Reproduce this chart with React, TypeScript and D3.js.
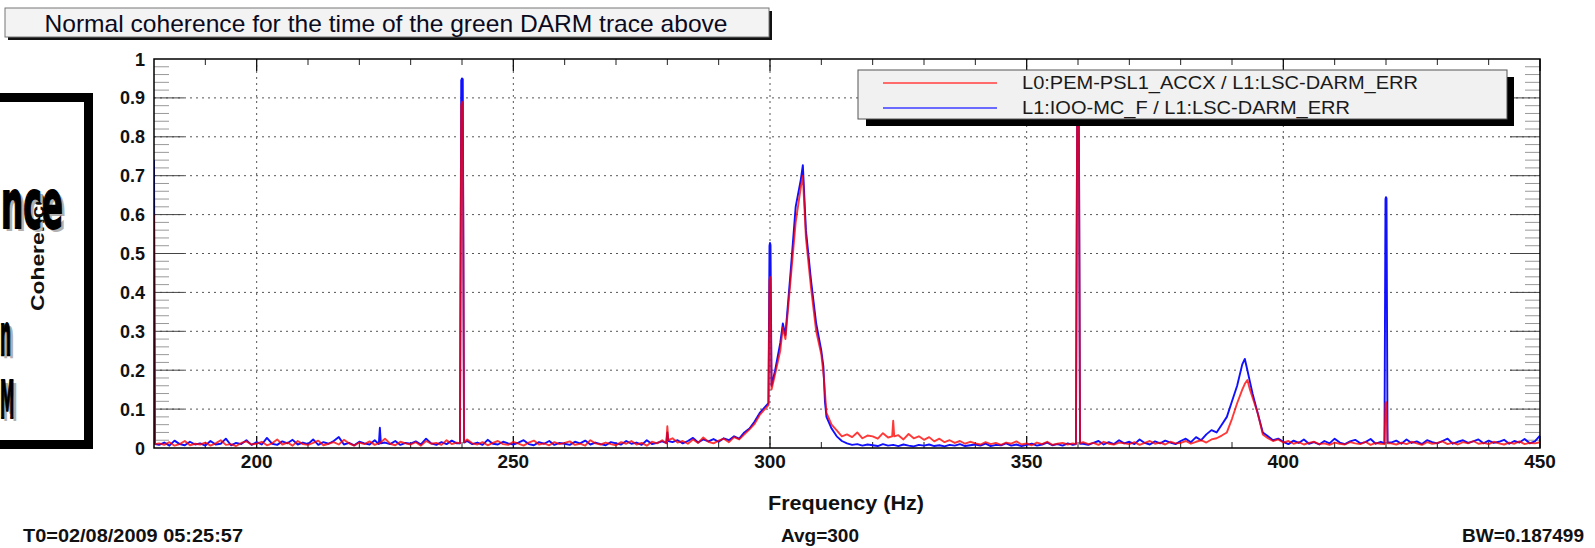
import React from "react";
import * as d3 from "d3";

// ---------- data ----------
const F0 = 180; // frequency of first baseline sample (Hz)
const DF = 1; // spacing of baseline samples (Hz)

const xMajorTicks = [200, 250, 300, 350, 400, 450];
const xGridTicks = [200, 250, 300, 350, 400];
const yTickValues = [0, 0.1, 0.2, 0.3, 0.4, 0.5, 0.6, 0.7, 0.8, 0.9, 1];
const yTickLabels = ["0", "0.1", "0.2", "0.3", "0.4", "0.5", "0.6", "0.7", "0.8", "0.9", "1"];

const seriesNames = ["L0:PEM-PSL1_ACCX / L1:LSC-DARM_ERR", "L1:IOO-MC_F / L1:LSC-DARM_ERR"];

// red: L0:PEM-PSL1_ACCX / L1:LSC-DARM_ERR, one value per Hz from 180 Hz
const redBase = [
  0.60, 0.012, 0.008, 0.015, 0.006, 0.010, 0.018, 0.007, 0.011, 0.009, // 180
  0.014, 0.006, 0.012, 0.020, 0.008, 0.010, 0.005, 0.013, 0.017, 0.009, // 190
  0.011, 0.016, 0.007, 0.012, 0.022, 0.009, 0.014, 0.006, 0.018, 0.010, // 200
  0.008, 0.013, 0.019, 0.007, 0.011, 0.015, 0.009, 0.021, 0.012, 0.006, // 210
  0.014, 0.010, 0.017, 0.008, 0.013, 0.024, 0.011, 0.007, 0.016, 0.012, // 220
  0.009, 0.015, 0.006, 0.018, 0.011, 0.013, 0.008, 0.020, 0.010, 0.014, // 230
  0.89, 0.022, 0.012, 0.009, 0.015, 0.007, 0.013, 0.018, 0.010, 0.008, // 240
  0.016, 0.011, 0.006, 0.014, 0.019, 0.009, 0.012, 0.007, 0.015, 0.010, // 250
  0.013, 0.017, 0.008, 0.011, 0.006, 0.020, 0.012, 0.009, 0.014, 0.010, // 260
  0.007, 0.015, 0.011, 0.018, 0.009, 0.013, 0.006, 0.016, 0.012, 0.020, // 270
  0.056, 0.025, 0.014, 0.018, 0.011, 0.022, 0.013, 0.027, 0.016, 0.012, // 280
  0.019, 0.024, 0.015, 0.028, 0.022, 0.035, 0.048, 0.062, 0.085, 0.100, // 290
  0.44, 0.19, 0.25, 0.28, 0.43, 0.58, 0.67, 0.54, 0.41, 0.30, // 300
  0.24, 0.09, 0.06, 0.045, 0.030, 0.035, 0.028, 0.040, 0.025, 0.032, // 310
  0.030, 0.024, 0.038, 0.027, 0.070, 0.033, 0.022, 0.036, 0.025, 0.030, // 320
  0.021, 0.028, 0.017, 0.024, 0.015, 0.020, 0.013, 0.018, 0.011, 0.016, // 330
  0.012, 0.009, 0.015, 0.010, 0.013, 0.008, 0.014, 0.011, 0.017, 0.009, // 340
  0.012, 0.007, 0.014, 0.010, 0.016, 0.008, 0.011, 0.013, 0.009, 0.012, // 350
  0.92, 0.015, 0.010, 0.013, 0.008, 0.016, 0.011, 0.009, 0.014, 0.012, // 360
  0.010, 0.015, 0.008, 0.013, 0.018, 0.011, 0.014, 0.009, 0.016, 0.012, // 370
  0.013, 0.018, 0.011, 0.016, 0.020, 0.014, 0.022, 0.025, 0.032, 0.040, // 380
  0.075, 0.115, 0.150, 0.175, 0.130, 0.090, 0.035, 0.025, 0.018, 0.022, // 390
  0.014, 0.018, 0.011, 0.015, 0.009, 0.013, 0.016, 0.010, 0.012, 0.008, // 400
  0.014, 0.011, 0.009, 0.015, 0.012, 0.010, 0.016, 0.008, 0.013, 0.011, // 410
  0.118, 0.012, 0.009, 0.014, 0.010, 0.016, 0.012, 0.008, 0.015, 0.011, // 420
  0.013, 0.017, 0.010, 0.014, 0.009, 0.015, 0.012, 0.018, 0.011, 0.013, // 430
  0.010, 0.016, 0.012, 0.009, 0.014, 0.011, 0.017, 0.010, 0.013, 0.012, // 440
  0.015, // 450
];

// extra red samples between whole Hz (line edges, peak tops)
const redExtra: [number, number][] = [
  [180.2, 0.01],
  [239.6, 0.012], [239.85, 0.88], [240.15, 0.885], [240.4, 0.015],
  [279.8, 0.012], [280.2, 0.02],
  [299.7, 0.11], [299.9, 0.43], [300.1, 0.435], [300.3, 0.15],
  [302.5, 0.31], [306.4, 0.70], [310.5, 0.18],
  [323.8, 0.03], [324.2, 0.03],
  [359.6, 0.01], [359.85, 0.91], [360.15, 0.915], [360.4, 0.012],
  [392.5, 0.165], [393.5, 0.15],
  [419.7, 0.01], [419.9, 0.115], [420.1, 0.112], [420.3, 0.012],
];

// blue: L1:IOO-MC_F / L1:LSC-DARM_ERR, one value per Hz from 180 Hz
const blueBase = [
  0.74, 0.008, 0.014, 0.006, 0.019, 0.010, 0.007, 0.016, 0.009, 0.012, // 180
  0.006, 0.018, 0.009, 0.011, 0.024, 0.007, 0.013, 0.010, 0.020, 0.008, // 190
  0.015, 0.009, 0.026, 0.011, 0.008, 0.017, 0.012, 0.021, 0.009, 0.014, // 200
  0.010, 0.022, 0.008, 0.015, 0.011, 0.018, 0.028, 0.009, 0.013, 0.007, // 210
  0.016, 0.012, 0.009, 0.020, 0.052, 0.014, 0.010, 0.018, 0.008, 0.013, // 220
  0.011, 0.017, 0.009, 0.024, 0.012, 0.008, 0.015, 0.010, 0.019, 0.012, // 230
  0.95, 0.018, 0.010, 0.014, 0.008, 0.021, 0.011, 0.009, 0.016, 0.012, // 240
  0.009, 0.014, 0.020, 0.010, 0.007, 0.015, 0.011, 0.018, 0.008, 0.013, // 250
  0.011, 0.008, 0.016, 0.012, 0.019, 0.009, 0.014, 0.010, 0.007, 0.015, // 260
  0.012, 0.009, 0.018, 0.011, 0.014, 0.008, 0.020, 0.010, 0.013, 0.017, // 270
  0.040, 0.015, 0.020, 0.012, 0.018, 0.026, 0.014, 0.022, 0.017, 0.023, // 280
  0.016, 0.025, 0.020, 0.030, 0.024, 0.040, 0.050, 0.068, 0.090, 0.105, // 290
  0.527, 0.20, 0.27, 0.29, 0.45, 0.62, 0.69, 0.56, 0.43, 0.32, // 300
  0.25, 0.08, 0.05, 0.030, 0.018, 0.012, 0.008, 0.010, 0.006, 0.009, // 310
  0.007, 0.005, 0.010, 0.006, 0.008, 0.005, 0.009, 0.006, 0.004, 0.008, // 320
  0.006, 0.009, 0.005, 0.007, 0.004, 0.008, 0.006, 0.010, 0.005, 0.007, // 330
  0.009, 0.006, 0.011, 0.005, 0.008, 0.007, 0.012, 0.006, 0.009, 0.005, // 340
  0.008, 0.011, 0.006, 0.009, 0.014, 0.007, 0.010, 0.006, 0.012, 0.008, // 350
  0.93, 0.011, 0.008, 0.013, 0.018, 0.009, 0.015, 0.010, 0.020, 0.012, // 360
  0.016, 0.010, 0.022, 0.013, 0.009, 0.017, 0.012, 0.019, 0.014, 0.010, // 370
  0.018, 0.024, 0.015, 0.028, 0.020, 0.035, 0.046, 0.040, 0.060, 0.080, // 380
  0.120, 0.160, 0.215, 0.200, 0.140, 0.090, 0.040, 0.030, 0.020, 0.024, // 390
  0.016, 0.010, 0.019, 0.013, 0.022, 0.011, 0.015, 0.009, 0.018, 0.012, // 400
  0.024, 0.014, 0.010, 0.017, 0.021, 0.012, 0.015, 0.023, 0.011, 0.016, // 410
  0.645, 0.014, 0.019, 0.011, 0.022, 0.013, 0.017, 0.010, 0.020, 0.015, // 420
  0.012, 0.018, 0.024, 0.011, 0.016, 0.020, 0.013, 0.017, 0.022, 0.012, // 430
  0.019, 0.013, 0.016, 0.021, 0.011, 0.018, 0.014, 0.023, 0.012, 0.017, // 440
  0.032, // 450
];

const blueExtra: [number, number][] = [
  [180.2, 0.01], [223.8, 0.01], [224.2, 0.012],
  [239.6, 0.012], [239.85, 0.945], [240.15, 0.948], [240.4, 0.014],
  [279.8, 0.013], [280.2, 0.018],
  [299.7, 0.115], [299.9, 0.52], [300.1, 0.522], [300.3, 0.16],
  [302.5, 0.32], [306.4, 0.727], [310.4, 0.21], [310.7, 0.12],
  [359.6, 0.01], [359.85, 0.92], [360.15, 0.925], [360.4, 0.011],
  [392.5, 0.229], [393.5, 0.17],
  [419.7, 0.012], [419.9, 0.64], [420.1, 0.642], [420.3, 0.014],
];

const titleText = "Normal coherence for the time of the green DARM trace above";
const xAxisTitle = "Frequency (Hz)";
const yAxisTitle = "Coherence";
const footerLeft = "T0=02/08/2009 05:25:57";
const footerMid = "Avg=300";
const footerRight = "BW=0.187499";
// visible (cut-off) fragments of the overlaid callout words
const overlayWords = ["nce", "n", "M"];

// ---------- layout ----------
const W = 1595;
const H = 548;
const PL = 154, PR = 1540, PT = 59, PB = 448;
const FONT = "'Liberation Sans', Arial, Helvetica, sans-serif";

function buildSeries(base: number[], extra: [number, number][]): [number, number][] {
  const pts: [number, number][] = base.map((v, i) => [F0 + i * DF, v] as [number, number]);
  return pts.concat(extra).sort((a, b) => a[0] - b[0]);
}

export default function App() {
  const x = d3.scaleLinear().domain([180, 450]).range([PL, PR]);
  const y = d3.scaleLinear().domain([0, 1]).range([PB, PT]);
  const line = d3
    .line<[number, number]>()
    .x((d) => x(d[0]))
    .y((d) => y(d[1]));

  const red = buildSeries(redBase, redExtra);
  const blue = buildSeries(blueBase, blueExtra);

  const xMinor = d3.range(190, 450, 10).filter((f) => f % 50 !== 0);
  const yMinor = d3.range(1, 50).map((i) => i * 0.02).filter((_, i) => (i + 1) % 5 !== 0);

  // big condensed callout text: drawn at natural size then squeezed horizontally
  const bigText = (word: string, lx: number, by: number, size: number, sx: number) => (
    <g key={word}>
      <text
        transform={`translate(${lx + 3},${by + 3}) scale(${sx},1)`}
        fontFamily="'DejaVu Sans', sans-serif"
        fontWeight="bold"
        fontSize={size}
        fill="#b0b0b0"
      >
        {word}
      </text>
      <text
        transform={`translate(${lx},${by}) scale(${sx},1)`}
        fontFamily="'DejaVu Sans', sans-serif"
        fontWeight="bold"
        fontSize={size}
        fill="#000"
        stroke="#000"
        strokeWidth={2}
      >
        {word}
      </text>
    </g>
  );

  return (
    <svg
      width={W}
      height={H}
      style={{ position: "absolute", left: 0, top: 0, background: "#fff" }}
      fontFamily={FONT}
    >
      <defs>
        <clipPath id="plotclip">
          <rect x={PL} y={PT} width={PR - PL} height={PB - PT} />
        </clipPath>
      </defs>
      <rect x={0} y={0} width={W} height={H} fill="#fff" />

      {/* title box */}
      <rect x={8} y={11} width={764} height={29} fill="#111" />
      <rect x={5} y={8} width={764} height={29} fill="#f3f3f3" stroke="#777" strokeWidth={1} />
      <text x={386} y={32} textAnchor="middle" fontSize={24} fill="#0a0a20" textLength={683} lengthAdjust="spacingAndGlyphs">
        {titleText}
      </text>

      {/* grid */}
      {xGridTicks.map((f) => (
        <line key={"gx" + f} x1={x(f)} x2={x(f)} y1={PT} y2={PB} stroke="#555" strokeWidth={1} strokeDasharray="2,4" />
      ))}
      {yTickValues.slice(1, 10).map((v) => (
        <line key={"gy" + v} x1={PL} x2={PR} y1={y(v)} y2={y(v)} stroke="#555" strokeWidth={1} strokeDasharray="2,4" />
      ))}

      {/* ticks */}
      {yMinor.map((v) => (
        <g key={"ym" + v}>
          <line x1={PL} x2={PL + 15} y1={y(v)} y2={y(v)} stroke="#999" strokeWidth={1} />
          <line x1={PR} x2={PR - 15} y1={y(v)} y2={y(v)} stroke="#999" strokeWidth={1} />
        </g>
      ))}
      {yTickValues.slice(1, 10).map((v) => (
        <g key={"yM" + v}>
          <line x1={PL} x2={PL + 30} y1={y(v)} y2={y(v)} stroke="#444" strokeWidth={1} />
          <line x1={PR} x2={PR - 30} y1={y(v)} y2={y(v)} stroke="#444" strokeWidth={1} />
        </g>
      ))}
      {xMinor.map((f) => (
        <g key={"xm" + f}>
          <line x1={x(f)} x2={x(f)} y1={PB} y2={PB - 6} stroke="#222" strokeWidth={1} />
          <line x1={x(f)} x2={x(f)} y1={PT} y2={PT + 6} stroke="#222" strokeWidth={1} />
        </g>
      ))}
      {xMajorTicks.map((f) => (
        <g key={"xM" + f}>
          <line x1={x(f)} x2={x(f)} y1={PB} y2={PB - 12} stroke="#111" strokeWidth={1.3} />
          <line x1={x(f)} x2={x(f)} y1={PT} y2={PT + 12} stroke="#111" strokeWidth={1.3} />
        </g>
      ))}

      {/* data */}
      <g clipPath="url(#plotclip)">
        <path d={line(blue) || ""} fill="none" stroke="#1010ff" strokeWidth={1.9} strokeLinejoin="round" />
        <path d={line(red) || ""} fill="none" stroke="#ff0000" strokeOpacity={0.78} strokeWidth={1.9} strokeLinejoin="round" />
      </g>

      {/* frame */}
      <rect x={PL} y={PT} width={PR - PL} height={PB - PT} fill="none" stroke="#000" strokeWidth={1.5} />

      {/* tick labels */}
      {yTickValues.map((v, i) => (
        <text key={"yl" + v} x={145} y={y(v) + 6.5} textAnchor="end" fontSize={18} fontWeight="bold" fill="#111">
          {yTickLabels[i]}
        </text>
      ))}
      {xMajorTicks.map((f) => (
        <text key={"xl" + f} x={x(f)} y={468} textAnchor="middle" fontSize={19} fontWeight="bold" fill="#111">
          {String(f)}
        </text>
      ))}

      {/* axis titles */}
      <text x={846} y={510} textAnchor="middle" fontSize={20} fontWeight="bold" fill="#111" textLength={156} lengthAdjust="spacingAndGlyphs">
        {xAxisTitle}
      </text>
      <text transform="translate(44,252) rotate(-90)" textAnchor="middle" fontSize={19} fontWeight="bold" fill="#111" textLength={118} lengthAdjust="spacingAndGlyphs">
        {yAxisTitle}
      </text>

      {/* footer */}
      <text x={23} y={542} fontSize={19} fontWeight="bold" fill="#111" textLength={220} lengthAdjust="spacingAndGlyphs">
        {footerLeft}
      </text>
      <text x={820} y={542} textAnchor="middle" fontSize={19} fontWeight="bold" fill="#111">
        {footerMid}
      </text>
      <text x={1584} y={542} textAnchor="end" fontSize={19} fontWeight="bold" fill="#111">
        {footerRight}
      </text>

      {/* legend */}
      <rect x={866} y={77} width={648} height={49} fill="#000" />
      <rect x={858} y={70} width={649} height={49} fill="#f1f1f1" stroke="#555" strokeWidth={1} />
      <line x1={883} x2={997} y1={83} y2={83} stroke="#ff6a6a" strokeWidth={2} />
      <line x1={883} x2={997} y1={108} y2={108} stroke="#6a6aff" strokeWidth={2} />
      <text x={1022} y={88.5} fontSize={19} fill="#1a1a1a" textLength={396} lengthAdjust="spacingAndGlyphs">
        {seriesNames[0]}
      </text>
      <text x={1022} y={114} fontSize={19} fill="#1a1a1a" textLength={328} lengthAdjust="spacingAndGlyphs">
        {seriesNames[1]}
      </text>

      {/* overlay callout box */}
      <rect x={-20} y={97.5} width={108.5} height={347} fill="none" stroke="#000" strokeWidth={9} />
      {bigText(overlayWords[0], 1, 228, 68, 0.46)}
      {bigText(overlayWords[1], 0, 355, 56, 0.28)}
      {bigText(overlayWords[2], 0, 418, 52, 0.28)}
    </svg>
  );
}
